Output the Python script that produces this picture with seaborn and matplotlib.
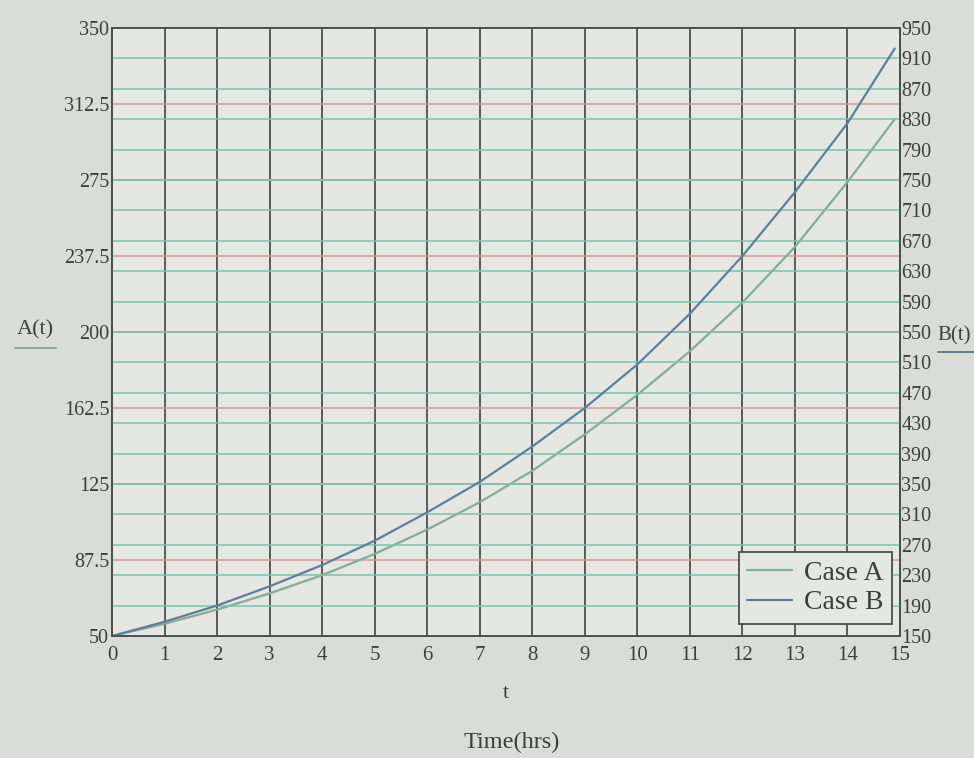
import numpy as np
import pandas as pd
import matplotlib
matplotlib.use("Agg")
import matplotlib.pyplot as plt
import seaborn as sns
from matplotlib.lines import Line2D

# ---- data ----
t_values = [0, 1, 2, 3, 4, 5, 6, 7, 8, 9, 10, 11, 12, 13, 14, 14.9]
case_a = [50, 56, 63, 71, 80, 90.5, 102.5, 116, 131.5, 149.5, 169, 190.5, 214.5, 242, 274, 305]      # left axis A(t)
case_b = [150, 168.7, 190, 215.3, 243.3, 275.3, 312.7, 352.7, 399.3, 450, 507.3, 574, 650, 734, 824.7, 923]  # right axis B(t)

x_ticks = list(range(0, 16))
a_ticks = [50, 87.5, 125, 162.5, 200, 237.5, 275, 312.5, 350]
b_ticks = list(range(150, 951, 40))
a_tick_labels = ["50", "87.5", "125", "162.5", "200", "237.5", "275", "312.5", "350"]

df_a = pd.DataFrame({"t": t_values, "value": case_a})
df_b = pd.DataFrame({"t": t_values, "value": case_b})

sns.set_theme(style="white")
plt.rcParams["font.family"] = ["Liberation Serif", "DejaVu Serif"]

text_col = "#3c3f3c"
col_a = "#86ab98"
col_b = "#5f7f96"

fig = plt.figure(figsize=(9.74, 7.58), dpi=100, facecolor="#dadcd7")
ax = fig.add_axes([0.115, 0.161, 0.809, 0.802])
ax.set_facecolor("#e4e7e2")
ax2 = ax.twinx()
ax2.patch.set_visible(False)

sns.lineplot(data=df_a, x="t", y="value", ax=ax, color=col_a, linewidth=1.6, label="Case A", legend=False)
sns.lineplot(data=df_b, x="t", y="value", ax=ax2, color=col_b, linewidth=1.6, label="Case B", legend=False)

ax.set_xlim(0, 15)
ax.set_ylim(50, 350)
ax2.set_ylim(150, 950)

ax.set_xticks(x_ticks)
ax.set_yticks(a_ticks)
ax.set_yticklabels(a_tick_labels)
ax2.set_yticks(b_ticks)

# grids
ax.grid(False)
ax2.grid(False)
ax.xaxis.grid(True, color="#3e4442", linewidth=1.2)
ax.yaxis.grid(True, color="#d79a9a", linewidth=1.1)
ax2.yaxis.grid(True, color="#7cc2ae", linewidth=1.3, alpha=0.85)
ax.set_axisbelow(True)
ax2.set_axisbelow(True)

for a in (ax, ax2):
    for s in a.spines.values():
        s.set_color("#4a4f4c")
        s.set_linewidth(1.3)

ax.tick_params(axis="y", length=0, pad=2, labelsize=14.5, labelcolor=text_col)
ax.tick_params(axis="x", length=0, pad=7, labelsize=15, labelcolor=text_col)
ax2.tick_params(axis="y", length=0, pad=1, labelsize=14.5, labelcolor=text_col)

ax.set_xlabel("t", fontsize=16, color=text_col, labelpad=14)
ax.set_ylabel("")
ax2.set_ylabel("")

fig.text(0.525, 0.006, "Time(hrs)", ha="center", va="bottom", fontsize=17.5, color=text_col)

# axis labels with trace indicators (Mathcad style)
fig.text(0.036, 0.565, "A(t)", ha="center", va="center", fontsize=16, color=text_col)
fig.add_artist(Line2D([0.015, 0.058], [0.541, 0.541], color=col_a, linewidth=1.4, transform=fig.transFigure))
fig.text(0.962, 0.557, "B(t)", ha="left", va="center", fontsize=15, color=text_col)
fig.add_artist(Line2D([0.963, 1.0], [0.536, 0.536], color=col_b, linewidth=1.4, transform=fig.transFigure))

handles = [Line2D([], [], color=col_a, linewidth=1.6), Line2D([], [], color=col_b, linewidth=1.6)]
leg = ax2.legend(handles, ["Case A", "Case B"], loc="lower right", bbox_to_anchor=(0.99, 0.02),
                 fontsize=20, frameon=True, fancybox=False, framealpha=1, edgecolor="#4a4f4c",
                 facecolor="#e4e7e2", handlelength=1.6, borderpad=0.3, labelspacing=0.15,
                 handletextpad=0.45, borderaxespad=0.0, labelcolor=text_col)
leg.get_frame().set_linewidth(1.3)

fig.savefig("out.png", dpi=100, facecolor=fig.get_facecolor())
